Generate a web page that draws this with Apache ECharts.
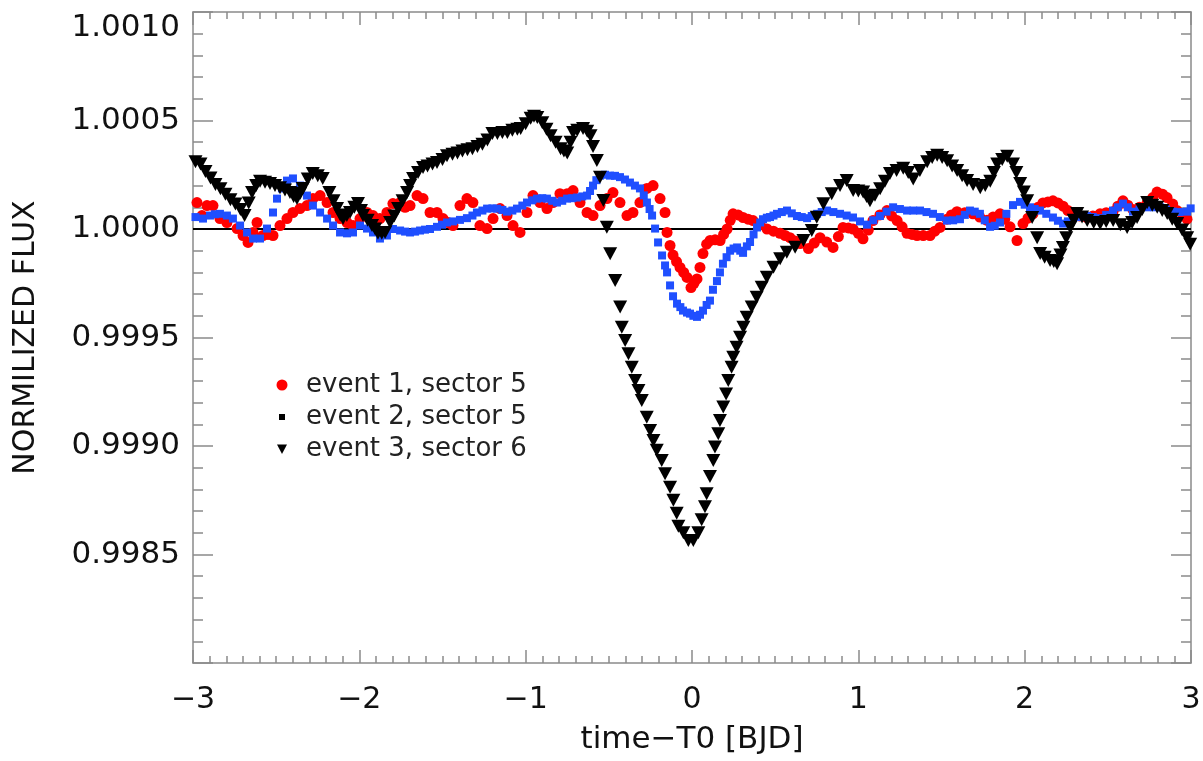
<!DOCTYPE html>
<html>
<head>
<meta charset="utf-8">
<title>normalized flux</title>
<script src="https://cdn.jsdelivr.net/npm/echarts@6/dist/echarts.min.js"></script>
<style>
  html, body { margin: 0; padding: 0; background: #fff; }
  #chart { width: 1203px; height: 761px; }
</style>
</head>
<body>
<div id="chart"></div>
<script>
// event 1, sector 5 (red dots)
var ev1Time = [-2.976,-2.946,-2.916,-2.880,-2.838,-2.796,-2.735,-2.699,-2.669,-2.639,-2.615,-2.579,-2.549,-2.519,-2.477,-2.435,-2.399,-2.357,-2.315,-2.279,
  -2.236,-2.194,-2.158,-2.116,-2.074,-2.038,-1.996,-1.954,-1.918,-1.876,-1.834,-1.798,-1.755,-1.725,-1.695,-1.653,-1.617,-1.575,-1.533,-1.497,
  -1.467,-1.437,-1.395,-1.353,-1.317,-1.275,-1.232,-1.196,-1.154,-1.112,-1.076,-1.034,-0.992,-0.956,-0.914,-0.872,-0.836,-0.794,-0.751,-0.715,
  -0.673,-0.631,-0.595,-0.553,-0.511,-0.475,-0.433,-0.391,-0.355,-0.313,-0.271,-0.234,-0.192,-0.162,-0.150,-0.132,-0.114,-0.093,-0.072,-0.050,
  -0.030,-0.006,0.012,0.030,0.048,0.066,0.088,0.109,0.139,0.169,0.190,0.211,0.230,0.247,0.277,0.307,0.337,0.367,0.410,0.451,
  0.490,0.529,0.560,0.589,0.620,0.650,0.700,0.735,0.770,0.810,0.848,0.880,0.908,0.940,0.968,1.000,1.028,1.060,1.088,1.130,
  1.172,1.200,1.233,1.263,1.293,1.323,1.353,1.390,1.431,1.460,1.491,1.533,1.560,1.593,1.640,1.689,1.730,1.774,1.810,1.852,
  1.880,1.912,1.954,1.990,2.020,2.050,2.080,2.110,2.140,2.170,2.200,2.231,2.260,2.291,2.330,2.375,2.410,2.453,2.490,2.531,
  2.560,2.591,2.620,2.651,2.690,2.736,2.770,2.796,2.830,2.856,2.890,2.916,2.950,2.976];
var ev1Flux = [1.000122,1.000062,1.000108,1.000108,1.000048,1.000030,1.000002,0.999970,0.999938,0.999984,1.000030,0.999970,0.999975,0.999970,1.000016,1.000048,1.000076,1.000094,1.000108,1.000140,
  1.000154,1.000122,1.000076,1.000048,1.000030,1.000016,1.000048,1.000076,1.000062,1.000048,1.000076,1.000117,1.000122,1.000100,1.000108,1.000154,1.000140,1.000076,1.000076,1.000048,
  1.000030,1.000016,1.000108,1.000140,1.000122,1.000016,1.000002,1.000048,1.000094,1.000062,1.000016,0.999984,1.000076,1.000154,1.000122,1.000094,1.000122,1.000163,1.000163,1.000177,
  1.000122,1.000076,1.000062,1.000108,1.000140,1.000168,1.000122,1.000062,1.000076,1.000122,1.000187,1.000200,1.000140,1.000076,0.999984,0.999924,0.999880,0.999850,0.999823,0.999800,
  0.999777,0.999730,0.999750,0.999770,0.999823,0.999887,0.999930,0.999947,0.999950,0.999947,0.999975,1.000000,1.000040,1.000070,1.000065,1.000053,1.000045,1.000039,1.000020,1.000000,
  0.999990,0.999980,0.999970,0.999960,0.999945,0.999933,0.999910,0.999935,0.999960,0.999940,0.999915,0.999965,1.000007,1.000005,1.000000,0.999980,0.999955,0.999995,1.000039,1.000065,
  1.000085,1.000060,1.000039,1.000010,0.999980,0.999975,0.999970,0.999970,0.999970,0.999990,1.000007,1.000045,1.000065,1.000080,1.000075,1.000070,1.000055,1.000040,1.000055,1.000070,
  1.000045,1.000010,0.999947,1.000025,1.000050,1.000070,1.000100,1.000120,1.000125,1.000130,1.000120,1.000105,1.000085,1.000070,1.000060,1.000053,1.000060,1.000070,1.000075,1.000080,
  1.000105,1.000130,1.000110,1.000090,1.000100,1.000120,1.000145,1.000170,1.000160,1.000145,1.000115,1.000085,1.000065,1.000045];

// event 2, sector 5 (blue squares)
var ev2Time = [-2.985,-2.940,-2.898,-2.868,-2.838,-2.796,-2.760,-2.717,-2.675,-2.639,-2.597,-2.555,-2.519,-2.495,-2.465,-2.435,-2.399,-2.357,-2.315,-2.279,
  -2.236,-2.194,-2.158,-2.116,-2.074,-2.038,-1.996,-1.954,-1.918,-1.876,-1.834,-1.798,-1.755,-1.725,-1.695,-1.665,-1.635,-1.605,-1.575,-1.533,
  -1.503,-1.473,-1.437,-1.395,-1.353,-1.320,-1.293,-1.260,-1.232,-1.200,-1.172,-1.140,-1.112,-1.080,-1.052,-1.020,-0.992,-0.960,-0.932,-0.900,
  -0.872,-0.840,-0.812,-0.780,-0.751,-0.720,-0.691,-0.660,-0.631,-0.613,-0.595,-0.575,-0.553,-0.523,-0.493,-0.463,-0.433,-0.403,-0.373,-0.343,
  -0.313,-0.290,-0.271,-0.255,-0.240,-0.222,-0.204,-0.180,-0.162,-0.150,-0.132,-0.114,-0.090,-0.070,-0.054,-0.030,-0.012,0.008,0.030,0.048,
  0.066,0.088,0.108,0.126,0.150,0.168,0.186,0.208,0.229,0.250,0.271,0.290,0.307,0.330,0.349,0.370,0.391,0.410,0.427,0.450,
  0.469,0.490,0.511,0.540,0.571,0.600,0.631,0.660,0.692,0.720,0.752,0.780,0.812,0.850,0.890,0.930,0.968,1.010,1.052,1.090,
  1.130,1.170,1.209,1.250,1.293,1.330,1.371,1.410,1.449,1.490,1.533,1.570,1.611,1.640,1.671,1.700,1.731,1.760,1.792,1.820,
  1.852,1.890,1.930,1.972,2.000,2.032,2.060,2.092,2.130,2.170,2.200,2.231,2.260,2.291,2.330,2.375,2.410,2.453,2.490,2.531,
  2.560,2.591,2.620,2.651,2.690,2.736,2.780,2.814,2.850,2.892,2.930,2.976,2.998];
var ev2Flux = [1.000055,1.000048,1.000062,1.000068,1.000070,1.000062,1.000048,1.000016,0.999984,0.999956,0.999956,1.000002,1.000076,1.000140,1.000187,1.000223,1.000233,1.000200,1.000154,1.000108,
  1.000076,1.000048,1.000016,0.999984,0.999980,0.999984,1.000016,1.000002,0.999984,0.999956,0.999970,1.000000,0.999993,0.999988,0.999984,0.999988,0.999993,0.999997,1.000000,1.000010,
  1.000020,1.000030,1.000035,1.000042,1.000050,1.000062,1.000076,1.000085,1.000094,1.000095,1.000094,1.000088,1.000080,1.000085,1.000094,1.000108,1.000122,1.000132,1.000140,1.000142,
  1.000140,1.000130,1.000122,1.000130,1.000140,1.000142,1.000145,1.000150,1.000154,1.000175,1.000200,1.000225,1.000246,1.000250,1.000246,1.000245,1.000239,1.000228,1.000214,1.000200,
  1.000187,1.000155,1.000122,1.000092,1.000062,1.000002,0.999938,0.999878,0.999832,0.999800,0.999740,0.999690,0.999656,0.999640,0.999624,0.999615,0.999610,0.999600,0.999595,0.999605,
  0.999624,0.999650,0.999670,0.999720,0.999760,0.999800,0.999840,0.999870,0.999900,0.999910,0.999915,0.999900,0.999890,0.999920,0.999940,0.999975,1.000007,1.000030,1.000045,1.000052,
  1.000055,1.000062,1.000070,1.000078,1.000085,1.000072,1.000060,1.000055,1.000050,1.000060,1.000070,1.000078,1.000085,1.000078,1.000070,1.000062,1.000053,1.000035,1.000020,1.000040,
  1.000060,1.000080,1.000100,1.000092,1.000085,1.000085,1.000085,1.000078,1.000070,1.000055,1.000039,1.000040,1.000045,1.000065,1.000085,1.000080,1.000070,1.000040,1.000010,1.000015,
  1.000030,1.000070,1.000110,1.000125,1.000112,1.000100,1.000092,1.000085,1.000070,1.000053,1.000038,1.000025,1.000035,1.000050,1.000055,1.000060,1.000055,1.000050,1.000065,1.000085,
  1.000100,1.000117,1.000100,1.000080,1.000090,1.000100,1.000100,1.000100,1.000090,1.000080,1.000078,1.000080,1.000095];

// event 3, sector 6 (black triangles)
var ev3Time = [-2.985,-2.955,-2.925,-2.895,-2.865,-2.835,-2.805,-2.775,-2.745,-2.715,-2.690,-2.665,-2.645,-2.620,-2.597,-2.567,-2.537,-2.507,-2.477,-2.447,
  -2.417,-2.395,-2.375,-2.355,-2.340,-2.310,-2.280,-2.250,-2.220,-2.180,-2.155,-2.134,-2.115,-2.098,-2.075,-2.056,-2.030,-2.008,-1.990,-1.978,
  -1.950,-1.924,-1.905,-1.888,-1.865,-1.845,-1.815,-1.790,-1.767,-1.740,-1.713,-1.695,-1.677,-1.647,-1.617,-1.590,-1.560,-1.533,-1.500,-1.473,
  -1.440,-1.410,-1.380,-1.350,-1.320,-1.290,-1.260,-1.230,-1.200,-1.170,-1.140,-1.110,-1.080,-1.050,-1.030,-1.000,-0.970,-0.950,-0.930,-0.900,
  -0.875,-0.850,-0.820,-0.790,-0.770,-0.750,-0.730,-0.715,-0.690,-0.655,-0.630,-0.610,-0.595,-0.572,-0.553,-0.533,-0.512,-0.492,-0.462,-0.432,
  -0.422,-0.402,-0.382,-0.362,-0.342,-0.322,-0.302,-0.272,-0.252,-0.232,-0.212,-0.182,-0.162,-0.132,-0.112,-0.092,-0.082,-0.052,-0.022,0.008,
  0.038,0.058,0.078,0.088,0.108,0.128,0.138,0.158,0.168,0.188,0.205,0.218,0.238,0.248,0.268,0.289,0.309,0.329,0.359,0.389,
  0.419,0.450,0.490,0.530,0.570,0.620,0.670,0.720,0.750,0.790,0.840,0.890,0.930,0.969,1.000,1.029,1.050,1.070,1.100,1.131,
  1.160,1.190,1.230,1.270,1.300,1.330,1.370,1.414,1.444,1.474,1.504,1.534,1.564,1.594,1.624,1.654,1.690,1.733,1.763,1.793,
  1.815,1.835,1.865,1.895,1.930,1.950,1.973,1.995,2.015,2.045,2.075,2.093,2.120,2.153,2.175,2.195,2.215,2.230,2.250,2.274,
  2.295,2.316,2.345,2.376,2.415,2.454,2.490,2.532,2.575,2.616,2.646,2.676,2.707,2.737,2.767,2.797,2.827,2.857,2.887,2.917,
  2.947,2.977,2.995];
var ev3Flux = [1.000310,1.000300,1.000265,1.000235,1.000205,1.000185,1.000160,1.000135,1.000115,1.000090,1.000062,1.000120,1.000168,1.000200,1.000220,1.000215,1.000210,1.000200,1.000190,1.000180,
  1.000168,1.000150,1.000140,1.000165,1.000187,1.000230,1.000256,1.000245,1.000233,1.000168,1.000130,1.000094,1.000065,1.000048,1.000062,1.000076,1.000100,1.000117,1.000085,1.000062,
  1.000040,1.000016,1.000000,0.999980,0.999980,0.999984,1.000030,1.000060,1.000094,1.000130,1.000168,1.000200,1.000233,1.000260,1.000283,1.000290,1.000300,1.000306,1.000320,1.000338,
  1.000345,1.000350,1.000360,1.000365,1.000370,1.000380,1.000390,1.000410,1.000440,1.000440,1.000445,1.000445,1.000455,1.000460,1.000463,1.000485,1.000510,1.000520,1.000514,1.000490,
  1.000460,1.000430,1.000400,1.000370,1.000360,1.000350,1.000400,1.000445,1.000455,1.000463,1.000450,1.000430,1.000380,1.000316,1.000239,1.000131,1.000008,0.999886,0.999763,0.999640,
  0.999547,0.999486,0.999425,0.999363,0.999302,0.999256,0.999210,0.999133,0.999071,0.999025,0.998980,0.998933,0.998872,0.998810,0.998750,0.998690,0.998630,0.998600,0.998565,0.998565,
  0.998600,0.998660,0.998720,0.998780,0.998860,0.998933,0.998995,0.999056,0.999118,0.999180,0.999240,0.999302,0.999363,0.999409,0.999455,0.999501,0.999547,0.999593,0.999640,0.999686,
  0.999732,0.999778,0.999824,0.999863,0.999893,0.999916,0.999947,0.999993,1.000054,1.000116,1.000162,1.000200,1.000223,1.000177,1.000175,1.000170,1.000150,1.000130,1.000155,1.000185,
  1.000220,1.000256,1.000270,1.000280,1.000260,1.000230,1.000270,1.000310,1.000330,1.000340,1.000330,1.000315,1.000290,1.000270,1.000245,1.000223,1.000205,1.000190,1.000200,1.000220,
  1.000260,1.000300,1.000320,1.000335,1.000300,1.000260,1.000210,1.000170,1.000130,1.000053,0.999960,0.999887,0.999870,0.999855,0.999850,0.999840,0.999880,0.999915,0.999960,1.000007,
  1.000040,1.000071,1.000055,1.000039,1.000030,1.000025,1.000035,1.000039,1.000020,1.000007,1.000030,1.000053,1.000090,1.000122,1.000110,1.000100,1.000085,1.000071,1.000045,1.000025,
  0.999995,0.999960,0.999930];

var seriesNames = ['event 1, sector 5', 'event 2, sector 5', 'event 3, sector 6'];
var baseLevel = 1.0;

function pairs(ts, fs) {
  return ts.map(function (t, i) { return [t, fs[i]]; });
}

var axisGrey = '#8a8a8a';
var font = 'DejaVu Sans';

var myChart = echarts.init(document.getElementById('chart'), null, { renderer: 'canvas' });

function boxAxis(extra) {
  var base = {
    type: 'value',
    axisLine: { show: true, onZero: false, lineStyle: { color: axisGrey, width: 1.5 } },
    splitLine: { show: false },
    axisTick: { show: true, inside: true, lineStyle: { color: axisGrey, width: 1.5 } },
    minorTick: { show: true, lineStyle: { color: axisGrey, width: 1.5 } }
  };
  return echarts.util.merge(base, extra, true);
}

var option = {
  backgroundColor: '#fff',
  animation: false,
  grid: { left: 193, right: 12, top: 12, bottom: 98, outerBoundsMode: 'none' },
  legend: {
    orient: 'vertical',
    left: 265,
    top: 365,
    itemWidth: 24,
    itemHeight: 12,
    itemGap: 2,
    textStyle: { fontFamily: font, fontSize: 26, color: '#222', lineHeight: 30, padding: [0, 0, 0, 7] },
    data: [
      { name: seriesNames[0], icon: 'path://M0,0M24,12M6.5,6a5.5,5.5 0 1,0 11,0a5.5,5.5 0 1,0 -11,0z', itemStyle: { color: '#ff0000' } },
      { name: seriesNames[1], icon: 'path://M0,0M24,12M9,3h6v6h-6z', itemStyle: { color: '#000' } },
      { name: seriesNames[2], icon: 'path://M0,0M24,12M7,1.5h10l-5,9.5z', itemStyle: { color: '#000' } }
    ]
  },
  xAxis: [
    boxAxis({
      position: 'bottom', min: -3, max: 3, interval: 1,
      axisTick: { length: 13 },
      minorTick: { splitNumber: 10, length: 7 },
      axisLabel: {
        margin: 22, fontFamily: font, fontSize: 30, color: '#111',
        formatter: function (v) { return String(v).replace('-', '\u2212'); }
      },
      name: 'time\u2212T0 [BJD]', nameLocation: 'middle', nameGap: 61,
      nameTextStyle: { fontFamily: font, fontSize: 31, color: '#111' }
    }),
    boxAxis({
      position: 'top', min: -3, max: 3, interval: 1,
      axisTick: { length: 13 },
      minorTick: { splitNumber: 10, length: 7 },
      axisLabel: { show: false }
    })
  ],
  yAxis: [
    boxAxis({
      position: 'left', min: 0.998, max: 1.001, interval: 0.0005,
      axisTick: { length: 20 },
      minorTick: { splitNumber: 5, length: 10 },
      axisLabel: {
        margin: 13, fontFamily: font, fontSize: 31, color: '#111',
        verticalAlignMaxLabel: 'top',
        formatter: function (v) { return v < 0.99825 ? '' : v.toFixed(4); }
      },
      name: 'NORMILIZED FLUX', nameLocation: 'middle', nameGap: 152, nameRotate: 90,
      nameTextStyle: { fontFamily: font, fontSize: 30, color: '#111' }
    }),
    boxAxis({
      position: 'right', min: 0.998, max: 1.001, interval: 0.0005,
      axisTick: { length: 20 },
      minorTick: { splitNumber: 5, length: 10 },
      axisLabel: { show: false }
    })
  ],
  series: [
    {
      name: 'base',
      type: 'line',
      data: [[-3, baseLevel], [3, baseLevel]],
      symbol: 'none',
      silent: true,
      lineStyle: { color: '#000', width: 2 },
      z: 1
    },
    {
      name: seriesNames[0],
      type: 'scatter',
      symbol: 'circle',
      symbolSize: 11,
      itemStyle: { color: '#ff0000', opacity: 1 },
      data: pairs(ev1Time, ev1Flux),
      z: 2
    },
    {
      name: seriesNames[1],
      type: 'scatter',
      symbol: 'rect',
      symbolSize: 8,
      itemStyle: { color: '#1f4fff', opacity: 1 },
      data: pairs(ev2Time, ev2Flux),
      z: 3
    },
    {
      name: seriesNames[2],
      type: 'scatter',
      symbol: 'triangle',
      symbolRotate: 180,
      symbolSize: [14, 13],
      itemStyle: { color: '#000', opacity: 1 },
      data: pairs(ev3Time, ev3Flux),
      z: 4
    }
  ]
};

myChart.setOption(option);

window.addEventListener('resize', function () {
  myChart.resize();
});
</script>
</body>
</html>
